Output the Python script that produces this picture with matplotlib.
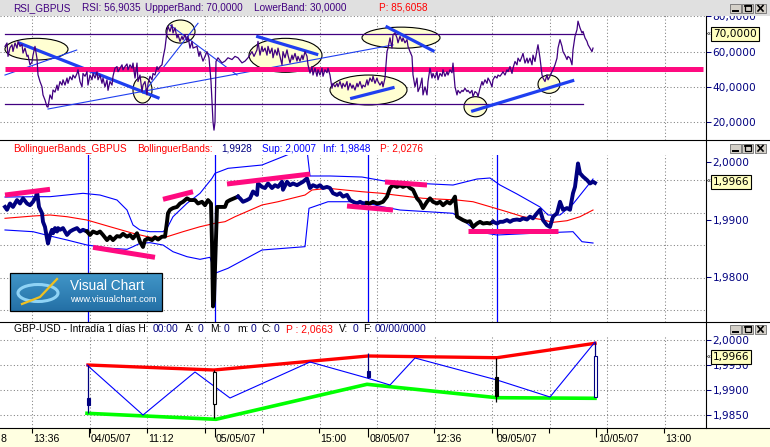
import numpy as np
import matplotlib.pyplot as plt
from matplotlib.patches import Ellipse, Rectangle
from matplotlib.colors import LinearSegmentedColormap

plt.rcParams['font.family'] = ['Liberation Sans', 'DejaVu Sans']

W, H = 770, 447
RIGHT = 706  # plotting area ends here, price scale to the right

NAVY = '#000080'
PURPLE = '#400080'
PINK = '#FF0A80'
TBLUE = '#1F3FF0'
GRID = dict(color='#808080', lw=0.75, ls=(0, (1, 2.2)))

# ---------------- shared time axis (bar positions) ----------------
grid_x = [32, 89.5, 147, 204.5, 262, 319.5, 377, 434.5, 492, 549.5, 607, 664.5]
session_x = [88, 215, 368, 497]
xtick_pos = [32, 90, 147, 205, 263, 319, 434, 492, 549, 607, 664]
xday_ticks = [89, 215, 368, 497, 596]
xlabels = ['8', '13:36', '04/05/07', '11:12', '05/05/07', '15:00', '08/05/07',
           '12:36', '09/05/07', '10/05/07', '13:00']
xlabel_pos = [0.5, 33, 91, 148, 216, 320, 370, 435, 497, 598, 665]

# ---------------- RSI panel ----------------
rsi_x = [5, 7, 8, 10, 12, 13, 15, 17, 18, 20, 22, 23, 25, 27, 28, 30, 32, 33, 35, 37,
         38, 40, 42, 43, 45, 47, 48, 50, 52, 53, 55, 57, 58, 60, 62, 63, 65, 67, 68, 70,
         72, 73, 75, 77, 78, 80, 82, 83, 85, 87, 88, 90, 92, 93, 95, 97, 98, 100, 102, 103,
         105, 107, 108, 110, 112, 113, 115, 117, 118, 120, 122, 123, 125, 127, 128, 130, 132, 133, 135, 137,
         138, 140, 142, 143, 145, 147, 148, 150, 152, 153, 155, 157, 158, 160, 162, 163, 165, 167, 168, 170,
         172, 173, 175, 177, 178, 180, 182, 183, 185, 187, 188, 190, 192, 193, 197, 199, 200, 203, 207, 209,
         211, 213, 214, 215, 216, 218, 222, 225, 228, 232, 235, 238, 242, 245, 248, 252, 254, 257, 258, 260,
         262, 263, 265, 267, 268, 270, 272, 273, 275, 277, 278, 280, 282, 283, 285, 287, 288, 290, 292, 293,
         295, 297, 298, 300, 302, 303, 305, 307, 308, 310, 312, 313, 315, 317, 318, 320, 322, 323, 325, 327,
         328, 330, 332, 333, 335, 337, 338, 340, 342, 343, 345, 347, 348, 350, 352, 353, 355, 357, 358, 360,
         362, 363, 365, 367, 368, 370, 372, 373, 375, 377, 378, 380, 382, 383, 385, 387, 388, 390, 392, 393,
         395, 397, 398, 400, 402, 403, 405, 407, 408, 410, 412, 413, 415, 417, 418, 420, 422, 423, 425, 427,
         428, 430, 432, 433, 435, 437, 438, 440, 442, 443, 445, 447, 448, 450, 452, 453, 455, 457, 458, 460,
         462, 463, 465, 467, 468, 470, 472, 473, 475, 477, 478, 480, 482, 483, 485, 487, 488, 490, 492, 493,
         495, 497, 498, 500, 502, 503, 505, 507, 508, 510, 512, 513, 515, 517, 518, 520, 522, 523, 525, 527,
         528, 530, 532, 533, 535, 537, 538, 540, 542, 543, 545, 547, 548, 550, 552, 553, 555, 557, 558, 560,
         562, 563, 565, 567, 568, 570, 572, 573, 575, 577, 578, 580, 582, 583, 585, 587, 588, 590, 592, 593]
rsi_v = [63.0, 64.9, 57.3, 62.2, 63.9, 60.1, 64.9, 62.0, 65.8, 63.0, 64.0, 59.2, 62.0, 57.3, 58.0, 52.5, 54.0, 58.0, 63.0, 56.0,
         46.8, 43.0, 40.0, 35.4, 32.5, 28.7, 28.5, 35.4, 33.0, 38.2, 37.0, 41.0, 38.0, 43.0, 41.0, 44.0, 41.0, 45.0, 42.0, 45.8,
         44.0, 46.7, 45.0, 47.6, 49.7, 43.0, 40.0, 47.6, 46.0, 48.6, 41.0, 46.7, 44.0, 47.6, 45.0, 48.6, 44.0, 46.7, 42.0, 45.0,
         40.0, 44.0, 38.0, 43.0, 41.0, 46.0, 50.6, 51.5, 48.6, 50.6, 52.5, 49.7, 51.5, 53.0, 49.7, 52.5, 50.6, 53.5, 45.0, 53.5,
         43.0, 46.7, 37.3, 41.0, 43.0, 35.4, 42.0, 46.0, 44.0, 47.6, 46.7, 51.5, 49.7, 51.5, 52.5, 56.3, 62.0, 71.5, 74.4, 71.5,
         75.4, 70.6, 73.5, 67.8, 69.6, 65.8, 68.7, 66.8, 69.6, 65.8, 68.7, 62.0, 65.8, 62.0, 63.0, 57.3, 60.0, 54.6, 60.0, 56.5,
         43.0, 20.1, 15.4, 20.0, 54.4, 56.5, 53.6, 54.6, 56.5, 55.5, 57.3, 56.5, 53.6, 54.6, 56.5, 60.0, 57.3, 61.0, 65.8, 58.0,
         63.0, 60.0, 62.0, 58.0, 63.0, 59.0, 62.0, 56.5, 61.0, 58.0, 62.0, 57.3, 52.5, 60.0, 56.5, 61.0, 58.0, 53.6, 58.0, 55.5,
         59.0, 54.6, 57.3, 54.6, 58.0, 55.5, 60.0, 57.3, 52.5, 47.8, 51.5, 46.7, 50.6, 46.0, 49.7, 46.7, 50.6, 46.0, 49.7, 48.0,
         50.6, 46.7, 39.2, 42.0, 40.0, 42.0, 40.0, 43.0, 39.2, 42.0, 40.0, 43.0, 38.2, 42.0, 39.2, 41.0, 38.2, 42.0, 40.0, 43.0,
         39.2, 41.0, 40.0, 44.0, 41.0, 45.0, 43.0, 46.0, 42.0, 45.0, 43.0, 41.0, 43.0, 40.0, 45.0, 60.0, 62.0, 67.8, 62.0, 69.6,
         70.6, 67.8, 65.0, 68.7, 65.8, 67.8, 65.0, 66.8, 63.0, 60.0, 57.3, 46.8, 40.0, 45.0, 37.3, 40.0, 45.0, 35.4, 40.0, 35.4,
         43.0, 50.6, 45.0, 47.6, 45.0, 48.6, 44.0, 47.6, 46.0, 49.7, 46.0, 48.6, 46.7, 49.7, 48.0, 53.5, 40.0, 35.4, 38.0, 36.4,
         38.0, 37.3, 39.2, 37.3, 38.0, 36.4, 38.0, 34.4, 37.3, 36.4, 34.4, 39.2, 43.0, 41.0, 44.0, 42.0, 45.0, 43.0, 40.0, 44.0,
         46.0, 45.0, 46.7, 46.0, 47.6, 48.6, 46.7, 49.7, 48.6, 51.5, 47.6, 50.6, 54.4, 52.5, 56.3, 54.4, 57.3, 59.0, 53.5, 56.3,
         53.5, 56.3, 52.5, 58.0, 54.4, 61.0, 63.9, 56.3, 46.8, 45.0, 43.0, 46.8, 44.0, 46.0, 48.6, 49.7, 52.5, 56.3, 62.0, 66.8,
         63.0, 60.0, 58.0, 55.5, 57.3, 56.3, 52.5, 61.0, 68.7, 72.5, 77.3, 73.5, 70.6, 71.5, 67.8, 65.8, 63.9, 62.0, 60.0, 62.0]
rsi_upper, rsi_lower, rsi_mid = 70, 30, 50
band_x = [5, 583]
mid_x = [5, 703]
rsi_ticks = [20, 40, 60, 80]

# hand-drawn marks on the RSI window
ell_x = [36.5, 142.5, 180.5, 285.5, 368.5, 401, 475.5, 549]
ell_v = [61.4, 38.2, 71.4, 57.9, 38.2, 67.9, 28.7, 41.5]
ell_w = [63, 19, 29, 73, 77, 78, 23, 22]
ell_h = [12.3, 14.8, 13.1, 19.3, 17.0, 12.0, 11.4, 10.4]
thick_lines = [(20, 64.7, 158, 33.8), (257.7, 68.5, 316.7, 58.5), (387, 74.0, 433, 60.5),
               (351.7, 33.5, 393, 39.5), (472.7, 26.3, 572.7, 43.5)]
thin_lines = [(5, 46.7, 76.7, 60.9), (48, 27.4, 393, 63.8), (143, 36.3, 198, 76.1),
              (170, 75.1, 237, 46.7)]

# ---------------- Bollinger panel ----------------
price_x = [5, 7, 10, 13, 17, 20, 23, 27, 30, 33, 36, 37, 39, 42, 43, 45, 47, 48, 50, 52,
           53, 55, 57, 58, 60, 63, 67, 70, 73, 77, 80, 83, 87, 90, 93, 97, 100, 103, 107, 110,
           113, 117, 120, 123, 127, 130, 133, 137, 140, 143, 145, 148, 152, 155, 158, 162, 165, 167, 168, 170,
           173, 177, 180, 183, 187, 190, 195, 198, 202, 205, 208, 211, 212, 213, 214, 217, 221, 225, 227, 230,
           234, 238, 240, 243, 247, 250, 253, 257, 258, 262, 265, 268, 272, 275, 278, 282, 283, 287, 290, 293,
           297, 300, 303, 307, 310, 313, 317, 320, 323, 327, 330, 333, 337, 340, 343, 347, 350, 353, 357, 360,
           363, 367, 370, 373, 377, 380, 383, 387, 390, 393, 397, 400, 403, 407, 410, 413, 417, 420, 423, 427,
           430, 433, 437, 440, 443, 447, 450, 453, 455, 457, 460, 463, 467, 470, 473, 477, 480, 483, 487, 490,
           493, 497, 500, 503, 507, 510, 513, 517, 520, 523, 527, 530, 533, 537, 540, 543, 547, 550, 553, 557,
           560, 563, 567, 570, 573, 575, 577, 578, 580, 583, 587, 590, 593, 595]
price_v = [1.9922, 1.9917, 1.9928, 1.9922, 1.9934, 1.9928, 1.9937, 1.9928, 1.9925, 1.9931, 1.9940, 1.9949, 1.9922, 1.9911, 1.9896, 1.9887, 1.9867, 1.9858, 1.9873, 1.9882,
           1.9876, 1.9885, 1.9879, 1.9885, 1.9882, 1.9885, 1.9873, 1.9879, 1.9882, 1.9885, 1.9879, 1.9882, 1.9879, 1.9873, 1.9879, 1.9876, 1.9879, 1.9873, 1.9864, 1.9870,
           1.9864, 1.9871, 1.9870, 1.9875, 1.9870, 1.9873, 1.9867, 1.9876, 1.9861, 1.9852, 1.9864, 1.9867, 1.9864, 1.9869, 1.9865, 1.9870, 1.9870, 1.9896, 1.9911, 1.9917,
           1.9920, 1.9922, 1.9928, 1.9931, 1.9937, 1.9934, 1.9934, 1.9928, 1.9931, 1.9925, 1.9934, 1.9928, 1.9859, 1.9748, 1.9759, 1.9922, 1.9922, 1.9922, 1.9931, 1.9934,
           1.9937, 1.9940, 1.9937, 1.9931, 1.9934, 1.9937, 1.9949, 1.9943, 1.9963, 1.9957, 1.9955, 1.9963, 1.9955, 1.9960, 1.9957, 1.9966, 1.9952, 1.9966, 1.9960, 1.9963,
           1.9960, 1.9963, 1.9966, 1.9972, 1.9955, 1.9960, 1.9957, 1.9960, 1.9955, 1.9957, 1.9955, 1.9946, 1.9943, 1.9946, 1.9940, 1.9943, 1.9934, 1.9931, 1.9928, 1.9931,
           1.9928, 1.9929, 1.9928, 1.9931, 1.9928, 1.9929, 1.9931, 1.9940, 1.9955, 1.9960, 1.9957, 1.9960, 1.9957, 1.9960, 1.9955, 1.9952, 1.9937, 1.9931, 1.9920, 1.9931,
           1.9937, 1.9931, 1.9928, 1.9931, 1.9925, 1.9931, 1.9928, 1.9934, 1.9940, 1.9905, 1.9902, 1.9899, 1.9896, 1.9897, 1.9887, 1.9893, 1.9896, 1.9893, 1.9894, 1.9893,
           1.9896, 1.9893, 1.9896, 1.9896, 1.9899, 1.9896, 1.9899, 1.9900, 1.9899, 1.9902, 1.9900, 1.9905, 1.9902, 1.9911, 1.9917, 1.9899, 1.9890, 1.9887, 1.9905, 1.9911,
           1.9931, 1.9917, 1.9920, 1.9917, 1.9946, 1.9957, 1.9984, 1.9998, 1.9981, 1.9975, 1.9969, 1.9963, 1.9966, 1.9964]
seg_edges = [0, 88, 239, 368, 495, 706]
seg_colors = [NAVY, 'black', NAVY, 'black', NAVY]

mid_bx = [5, 33, 50, 67, 87, 110, 133, 150, 167, 183, 200, 215, 225, 235, 262, 278, 305, 312, 328, 345,
          362, 382, 395, 423, 457, 473, 490, 507, 523, 540, 553, 567, 580, 593]
mid_bv = [1.99021, 1.99061, 1.99079, 1.99049, 1.98991, 1.98874, 1.98759, 1.98689, 1.98699, 1.98787,
          1.98874, 1.98934, 1.98962, 1.99049, 1.99254, 1.99311, 1.99428, 1.99516, 1.99546, 1.99516,
          1.99486, 1.99458, 1.99428, 1.99371, 1.99341, 1.99311, 1.99224, 1.99136, 1.99049, 1.99004,
          1.98951, 1.98979, 1.99049, 1.99166]
up_bx = [5, 37, 50, 83, 100, 117, 127, 133, 140, 150, 163, 167, 173, 187, 200, 212, 215, 228, 262, 287,
         298, 307, 310, 330, 362, 390, 453, 477, 490, 500, 517, 540, 548, 560, 573, 593]
up_bv = [1.99393, 1.99399, 1.99399, 1.99458, 1.99428, 1.99341, 1.99166, 1.98904, 1.98817, 1.98787,
         1.98787, 1.98846, 1.99049, 1.99283, 1.99458, 1.99720, 1.99808, 1.99895, 1.99953, 2.00128,
         2.00215, 2.00215, 1.99761, 1.99761, 1.99743, 1.99656, 1.99603, 1.99708, 1.99726, 1.99603,
         1.99446, 1.99219, 1.99079, 1.99079, 1.99271, 1.99708]
lo_bx = [5, 33, 50, 67, 87, 110, 127, 133, 140, 150, 163, 173, 187, 200, 210, 215, 228, 262, 305, 309,
         328, 362, 382, 400, 453, 467, 477, 497, 533, 573, 582, 593]
lo_bv = [1.98817, 1.98787, 1.98712, 1.98642, 1.98554, 1.98497, 1.98479, 1.98525, 1.98584, 1.98595,
         1.98554, 1.98437, 1.98350, 1.98304, 1.98339, 1.98060, 1.98147, 1.98467, 1.98525, 1.99196,
         1.99311, 1.99311, 1.99224, 1.99166, 1.99109, 1.98934, 1.98787, 1.98729, 1.98759, 1.98787,
         1.98612, 1.98589]
pink_lines = [(5, 1.99428, 50, 1.99528), (93, 1.98514, 155, 1.98339), (163, 1.99353, 193, 1.99486),
              (227, 1.99621, 310, 1.99795), (347, 1.99236, 393, 1.99166), (385, 1.99656, 427, 1.99603),
              (468, 1.98799, 558, 1.98799)]
bb_ticks = [1.98, 1.99, 2.00]
bb_grid = [1.97418, 1.97972, 1.98554, 1.99119, 1.99691]

# ---------------- daily panel ----------------
day_x = [88, 214, 368, 496, 595]
day_open = [1.9884, 1.9873, 1.9938, 1.9927, 1.9887]
day_close = [1.9869, 1.9937, 1.9926, 1.9889, 1.9967]
day_high = [1.9950, 1.9940, 1.9974, 1.9965, 1.9997]
day_low = [1.9854, 1.9844, 1.9924, 1.9877, 1.9887]
day_color = [NAVY, 'black', NAVY, 'black', NAVY]
hi_x = [88, 214, 368, 497, 595]
hi_v = [1.9950, 1.9940, 1.9968, 1.99646, 1.99934]
lo_x = [87, 216, 367, 497, 595]
lo_v = [1.98534, 1.98414, 1.99114, 1.98846, 1.98834]
zz_x = [87, 143, 195, 230, 310, 367, 390, 415, 497, 550, 595]
zz_v = [1.9950, 1.9850, 1.9936, 1.9884, 1.9956, 1.9924, 1.9910, 1.9964, 1.9920, 1.9886, 1.9996]
day_ticks = [1.9850, 1.9900, 1.9950, 2.0000]


def fmt(v, nd):
    return f'{v:.{nd}f}'.replace('.', ',')


fig = plt.figure(figsize=(W / 100, H / 100), dpi=100)


def panel(top, bottom, left=0, right=RIGHT):
    return fig.add_axes([left / W, 1 - bottom / H, (right - left) / W, (bottom - top) / H])


def style(ax):
    ax.set_xlim(0, RIGHT)
    for s in ax.spines.values():
        s.set_visible(False)
    ax.set_xticks(grid_x)
    ax.tick_params(axis='x', length=0, labelbottom=False)
    ax.xaxis.grid(True, **GRID)
    ax.yaxis.tick_right()
    ax.tick_params(axis='y', which='major', length=3.6, width=0.75, color=NAVY,
                   labelcolor=NAVY, labelsize=7.6, pad=1.2, labelfontfamily='DejaVu Sans')


def value_box(ax, v, s):
    ax.text(713, v, s, ha='left', va='center', fontsize=7.6, family='DejaVu Sans',
            clip_on=False, zorder=6,
            bbox=dict(boxstyle='square,pad=0.18', fc='#FFFFC0', ec='black', lw=0.8))
    ax.text(709, v, '«', ha='center', va='center', fontsize=5, clip_on=False, zorder=6)


# RSI
ax1 = panel(15, 140)
style(ax1)
ax1.set_ylim(9.8, 80.8)
ax1.set_yticks(rsi_ticks, labels=[fmt(v, 4) for v in rsi_ticks])
ax1.yaxis.grid(True, **GRID)
for cx, cv, w, h in zip(ell_x, ell_v, ell_w, ell_h):
    ax1.add_patch(Ellipse((cx, cv), w, h, fc='#FFFFD2', ec='black', lw=0.8, zorder=1.6))
ax1.plot(band_x, [rsi_upper] * 2, color=PURPLE, lw=0.9, zorder=2)
ax1.plot(band_x, [rsi_lower] * 2, color=PURPLE, lw=0.9, zorder=2)
for x0, v0, x1, v1 in thin_lines:
    ax1.plot([x0, x1], [v0, v1], color=TBLUE, lw=0.8, zorder=2.1)
for x0, v0, x1, v1 in thick_lines:
    ax1.plot([x0, x1], [v0, v1], color=TBLUE, lw=2.3, zorder=2.1)
ax1.plot(mid_x, [rsi_mid] * 2, color=PINK, lw=3.6, zorder=2.2, solid_capstyle='butt')
ax1.plot(rsi_x, rsi_v, color=PURPLE, lw=0.9, zorder=2.5)
value_box(ax1, rsi_upper, fmt(rsi_upper, 4))

# Bollinger
ax2 = panel(155, 322)
style(ax2)
ax2.set_ylim(1.97208, 2.00128)
ax2.set_yticks(bb_ticks, labels=[fmt(v, 4) for v in bb_ticks])
ax2.set_yticks(bb_grid, minor=True)
ax2.tick_params(axis='y', which='minor', length=0)
ax2.yaxis.grid(True, which='minor', **GRID)
for sx in session_x:
    ax2.axvline(sx, color='#0000FF', lw=0.9, zorder=1.7)
ax2.plot(up_bx, up_bv, color='#0000FF', lw=0.8, zorder=2)
ax2.plot(lo_bx, lo_bv, color='#0000FF', lw=0.8, zorder=2)
ax2.plot(mid_bx, mid_bv, color='#FF0000', lw=0.8, zorder=2)
px = np.array(price_x)
pv = np.array(price_v)
for i, c in enumerate(seg_colors):
    idx = np.where((px >= seg_edges[i]) & (px < seg_edges[i + 1]))[0]
    if i > 0:
        idx = np.r_[idx[0] - 1, idx]
    ax2.plot(px[idx], pv[idx], color=c, lw=2.8, zorder=2.5)
for x0, v0, x1, v1 in pink_lines:
    ax2.plot([x0, x1], [v0, v1], color=PINK, lw=3.6, zorder=3, solid_capstyle='butt')
value_box(ax2, price_v[-2], fmt(price_v[-2], 4))

# daily
ax3 = panel(336, 428)
style(ax3)
ax3.set_ylim(1.9824, 2.0008)
ax3.set_yticks(day_ticks, labels=[fmt(v, 4) for v in day_ticks])
ax3.yaxis.grid(True, **GRID)
ax3.plot(hi_x, hi_v, color='#FF0000', lw=2.4, zorder=2)
ax3.plot(lo_x, lo_v, color='#00FF00', lw=2.6, zorder=2)
ax3.plot(zz_x, zz_v, color='#0000FF', lw=0.8, zorder=2.2)
for x, o, c, hi, lo, col in zip(day_x, day_open, day_close, day_high, day_low, day_color):
    ax3.vlines(x, lo, hi, color=col, lw=0.9, zorder=3)
    ax3.bar(x, c - o, bottom=o, width=3, color=col if c < o else 'white',
            edgecolor=col, lw=0.8, zorder=3.1)
value_box(ax3, 1.9966, '1,9966')

# time strip
axt = fig.add_axes([0, 0, 1, (H - 428) / H])
axt.set_facecolor('#FFFFE1')
axt.set_xlim(0, W)
axt.set_ylim(0, 1)
for k, s in axt.spines.items():
    s.set_visible(k == 'top')
axt.spines['top'].set_linewidth(0.8)
axt.set_yticks([])
axt.set_xticks(xtick_pos)
axt.set_xticks(xday_ticks, minor=True)
axt.tick_params(axis='x', which='both', top=True, bottom=False, direction='in',
                labeltop=False, labelbottom=False, width=0.8, color='black')
axt.tick_params(axis='x', which='major', length=3.6)
axt.tick_params(axis='x', which='minor', length=6.5)
for x, s in zip(xlabel_pos, xlabels):
    axt.text(x, 0.42, s, ha='left', va='center', fontsize=7.6)

# window chrome, titles and logo in pixel coordinates
ov = fig.add_axes([0, 0, 1, 1], zorder=10)
ov.set_xlim(0, W)
ov.set_ylim(H, 0)
ov.axis('off')
ov.add_patch(Rectangle((0, 0), W, 16, fc='#E0E0E0', ec='none'))
for y in (140, 322):
    ov.plot([0, W], [y, y], color='black', lw=0.8)
ov.plot([RIGHT, RIGHT], [16, 428], color='black', lw=0.8)

for y0 in (3.5, 143.5, 324.5):
    for bx in (730, 742, 755):
        ov.add_patch(Rectangle((bx, y0), 11, 9.5, fc='#D4D0C8', ec='#707070', lw=0.6))
    ov.plot([733, 738], [y0 + 7.3, y0 + 7.3], color='black', lw=1.4)
    ov.add_patch(Rectangle((744.5, y0 + 1.8), 6, 6, fc='none', ec='black', lw=0.9))
    ov.plot([744.5, 750.5], [y0 + 2.2, y0 + 2.2], color='black', lw=1.3)
    ov.plot([758, 763], [y0 + 2, y0 + 7.5], color='black', lw=1.2)
    ov.plot([758, 763], [y0 + 7.5, y0 + 2], color='black', lw=1.2)

TF = 7.2
for s, x, c in [('RSI_GBPUS', 13, PURPLE), ('RSI: 56,9035', 82, PURPLE),
                ('UppperBand: 70,0000', 145, PURPLE), ('LowerBand: 30,0000', 254, PURPLE),
                ('P: 85,6058', 379, 'red')]:
    ov.text(x, 8, s, color=c, fontsize=TF, va='center')

for s, x, c in [('BollinguerBands_GBPUS', 13, 'red'), ('BollinguerBands:', 137, 'red'),
                ('1,9928', 221, NAVY), ('Sup: 2,0007', 262, '#0000FF'),
                ('Inf: 1,9848', 323, '#0000FF'), ('P: 2,0276', 380, 'red')]:
    ov.text(x, 148.5, s, color=c, fontsize=TF, va='center')

for s, x, c in [('GBP-USD - Intradía 1 días H:', 14, 'black'), ('00:00', 153, NAVY),
                ('A:', 185, 'black'), ('0', 198, NAVY), ('M:', 210, 'black'), ('0', 224, NAVY),
                ('m:', 237, 'black'), ('0', 251, NAVY), ('C:', 261, 'black'), ('0', 274, NAVY),
                ('P : 2,0663', 286, 'red'), ('V:', 339, 'black'), ('0', 353, NAVY),
                ('F:', 363, 'black'), ('00/00/0000', 375, NAVY)]:
    ov.text(x, 329.5, s, color=c, fontsize=7.4, va='center')

grad = np.linspace(0, 1, 40).reshape(-1, 1)
cmap = LinearSegmentedColormap.from_list('vc', ['#4196c8', '#2470a6'])
ov.imshow(grad, extent=(10, 162, 310.7, 272.7), aspect='auto', cmap=cmap, zorder=1)
ov.add_patch(Rectangle((10, 272.7), 152, 38, fc='none', ec='black', lw=0.9, zorder=2))
ov.add_patch(Ellipse((38, 293), 40, 17, fc='none', ec='#8FD3F5', lw=2.2, zorder=2))
ov.plot([22, 40, 57], [304, 297, 279], color='#F0C020', lw=1.6, zorder=3)
ov.text(70, 286, 'Visual Chart', color='white', fontsize=9.8, va='center', zorder=3)
ov.text(70, 300, 'www.visualchart.com', color='white', fontsize=6.7, va='center', zorder=3)
ov.set_xlim(0, W)
ov.set_ylim(H, 0)

fig.savefig('out.png', dpi=100)
